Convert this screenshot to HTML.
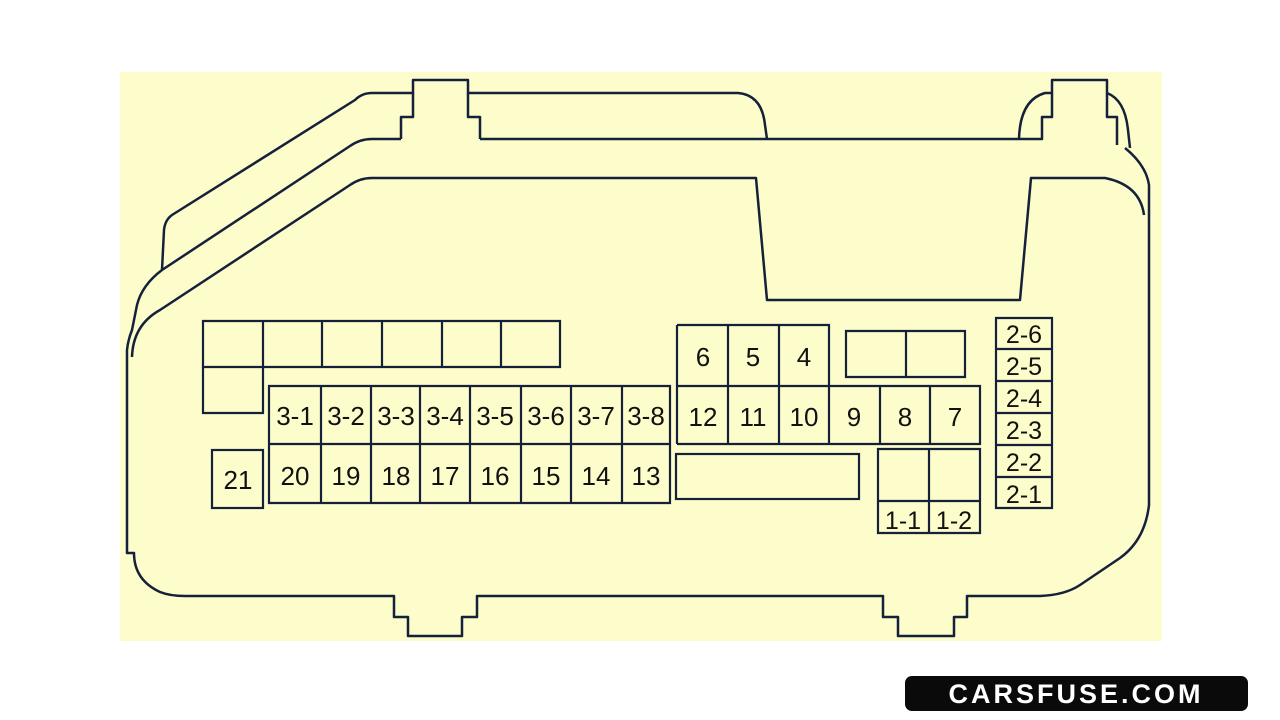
<!DOCTYPE html>
<html><head><meta charset="utf-8"><style>
html,body{margin:0;padding:0;background:#fff;}
svg{display:block;}
text{font-family:"Liberation Sans",sans-serif;fill:#111;}
</style></head><body>
<svg width="1280" height="720" viewBox="0 0 1280 720" xmlns="http://www.w3.org/2000/svg">
<rect x="120" y="72" width="1042" height="569" fill="#fdfccb"/>
<g fill="none" stroke="#15213a" stroke-width="2.5" stroke-linejoin="round">
<path d="M162,270 L164,230 Q165,220 172,215 L355,100 Q362,93 372,93 L413,93 L413,80 L468,80 L468,93 L738,93 Q762,95 765,125 L767,139"/>
<path d="M413,93 L413,117 L401,117 L401,139"/>
<path d="M468,93 L468,117 L480,117 L480,139"/>
<path d="M401,139 L372,139 Q360,139 350,146 L162,270 Q142,285 137,305 L132,330 Q128,340 127,350 L127,553 L134,553 Q134,580 160,592 Q170,596 185,596 L394,596 L394,617 L408,617 L408,636 L462,636 L462,617 L477,617 L477,596 L883,596 L883,617 L898,617 L898,636 L954,636 L954,617 L967,617 L967,596 L1040,596 Q1065,595 1080,585 L1120,558 Q1145,540 1149,505 L1149,185 Q1146,165 1125,148"/>
<path d="M480,139 L1042,139 L1042,117 L1052,117 L1052,80 L1107,80 L1107,117 L1117,117 L1117,145"/>
<path d="M1019,139 Q1020,100 1045,93 L1052,93"/>
<path d="M1107,93 Q1125,100 1128,130 L1130,148"/>
<path d="M132,357 Q133,325 160,310 L350,185 Q360,178 372,178 L756,178 L767,300 L1020,300 L1031,178 L1105,178 Q1140,185 1144,215"/>
</g>
<g fill="none" stroke="#15213a" stroke-width="2.2">
<path d="M203,321 H560 V367 H203 Z M263,321 V367 M322,321 V367 M382,321 V367 M442,321 V367 M501,321 V367"/>
<path d="M203,367 V413 H263 V367"/>
<rect x="212" y="450" width="51" height="58"/>
<path d="M269,386 H670 V503 H269 Z M269,444 H670 M321,386 V503 M371,386 V503 M420,386 V503 M470,386 V503 M521,386 V503 M571,386 V503 M622,386 V503"/>
<path d="M677,325 H829 V386 M677,325 V444 M728,325 V444 M779,325 V444 M829,386 V444"/>
<path d="M677,386 H980 V444 H677 M880,386 V444 M930,386 V444"/>
<path d="M846,331 H965 V377 H846 Z M906,331 V377"/>
<rect x="676" y="454" width="183" height="45"/>
<path d="M878,449 H980 V533 H878 Z M878,501 H980 M929,449 V533"/>
<path d="M996,318 H1052 V508 H996 Z M996,349 H1052 M996,381 H1052 M996,413 H1052 M996,445 H1052 M996,477 H1052"/>
</g>
<g font-size="26" text-anchor="middle">
<text x="295" y="425">3-1</text><text x="346" y="425">3-2</text><text x="396" y="425">3-3</text><text x="445" y="425">3-4</text>
<text x="495" y="425">3-5</text><text x="546" y="425">3-6</text><text x="596" y="425">3-7</text><text x="646" y="425">3-8</text>
<text x="295" y="485">20</text><text x="346" y="485">19</text><text x="396" y="485">18</text><text x="445" y="485">17</text>
<text x="495" y="485">16</text><text x="546" y="485">15</text><text x="596" y="485">14</text><text x="646" y="485">13</text>
<text x="238" y="489">21</text>
<text x="703" y="366">6</text><text x="753" y="366">5</text><text x="804" y="366">4</text>
<text x="703" y="426">12</text><text x="753" y="426">11</text><text x="804" y="426">10</text>
<text x="854" y="426">9</text><text x="905" y="426">8</text><text x="955" y="426">7</text>
<text x="903" y="529" font-size="25">1-1</text><text x="954" y="529" font-size="25">1-2</text>
<text x="1024" y="343" font-size="25">2-6</text><text x="1024" y="375" font-size="25">2-5</text>
<text x="1024" y="407" font-size="25">2-4</text><text x="1024" y="439" font-size="25">2-3</text>
<text x="1024" y="471" font-size="25">2-2</text><text x="1024" y="503" font-size="25">2-1</text>
</g>
<rect x="905" y="676" width="343" height="35" rx="7" fill="#0a0a0a"/>
<text x="1076" y="703" text-anchor="middle" font-size="27" font-weight="bold" letter-spacing="3" style="fill:#fff">CARSFUSE.COM</text>
</svg>
</body></html>
